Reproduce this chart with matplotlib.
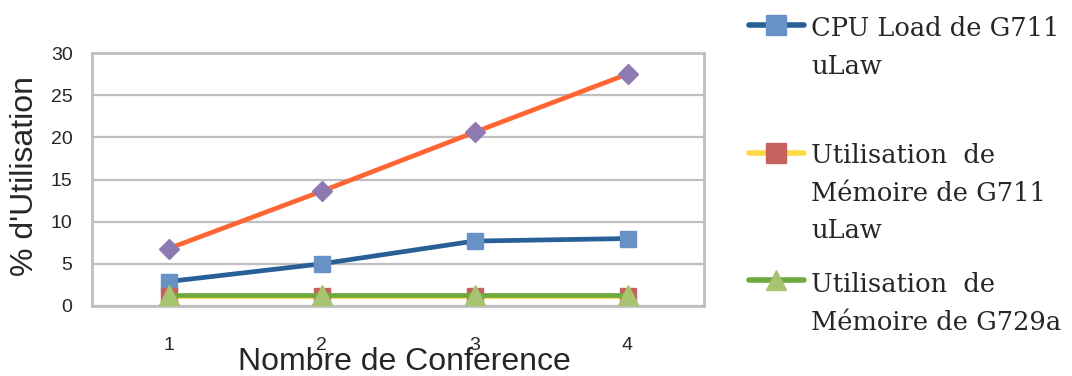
import matplotlib
matplotlib.use('Agg')
import matplotlib.pyplot as plt
from matplotlib.lines import Line2D

# data
conferences = [1, 2, 3, 4]
cpu_g711 = [2.9, 5.0, 7.7, 8.0]
mem_g711 = [1.2, 1.2, 1.2, 1.2]
mem_g729a = [1.35, 1.35, 1.35, 1.35]
cpu_g729a = [6.8, 13.6, 20.6, 27.5]

labels = [["CPU Load de G711", "uLaw"],
          ["Utilisation  de", "Mémoire de G711", "uLaw"],
          ["Utilisation  de", "Mémoire de G729a"]]

W, H = 1072, 376
fig = plt.figure(figsize=(W / 100, H / 100), dpi=100)
ax = fig.add_axes([92 / W, 1 - 306 / H, (704 - 92) / W, (306 - 53) / H])

grid_c = '#BFBFBF'

# series
ax.plot(conferences, cpu_g711, color='#285F97', lw=3.4, marker='s', ms=12,
        mfc='#6892C6', mec='#6892C6', zorder=3)
ax.plot(conferences, mem_g711, color='#FFD944', lw=3.4, marker='s', ms=12,
        mfc='#C5625F', mec='#C5625F', zorder=3)
ax.plot(conferences, mem_g729a, color='#6FA83C', lw=3.4, marker='^', ms=14,
        mfc='#A7C470', mec='#A7C470', zorder=4)
ax.plot(conferences, cpu_g729a, color='#FF6633', lw=3.4, marker='D', ms=10,
        mfc='#8E79B0', mec='#8E79B0', zorder=3)

ax.set_xlim(0.5, 4.5)
ax.set_ylim(0, 30)
ax.set_yticks(range(0, 31, 5))
ax.set_xticks(conferences)
ax.yaxis.grid(True, color=grid_c, lw=1.6)
ax.set_axisbelow(True)
for s in ax.spines.values():
    s.set_color(grid_c)
    s.set_linewidth(2)
ax.tick_params(length=0, labelsize=14, colors='#262626')
ax.tick_params(axis='y', pad=14)
ax.tick_params(axis='x', pad=22)
for lab in ax.get_xticklabels() + ax.get_yticklabels():
    lab.set_family('Liberation Sans')

fig.text(25 / W, 1 - 176 / H, "% d'Utilisation", rotation=90, ha='center',
         va='center', fontsize=23, family='Liberation Sans', color='#262626')
fig.text(404 / W, 1 - 362 / H, "Nombre de Conference", ha='center',
         va='center', fontsize=23, family='Liberation Sans', color='#262626')

# legend drawn by hand so the irregular spacing matches
handles = [('#285F97', 's', '#6892C6', 25, 36),
           ('#FFD944', 's', '#C5625F', 153, 163),
           ('#6FA83C', '^', '#A7C470', 280, 292)]
for (lc, mk, mc, y, base), lines in zip(handles, labels):
    yy = 1 - y / H
    fig.add_artist(Line2D([749 / W, 804 / W], [yy, yy], color=lc, lw=4,
                          solid_capstyle='round', transform=fig.transFigure))
    fig.add_artist(Line2D([776 / W], [yy], marker=mk, ms=14,
                          mfc=mc, mec=mc, transform=fig.transFigure))
    for k, line in enumerate(lines):
        fig.text(811 / W, 1 - (base + 37.7 * k) / H, line, ha='left',
                 va='baseline', fontsize=18.5, family='DejaVu Serif',
                 color='#262626')

fig.savefig('out.png', dpi=100)
